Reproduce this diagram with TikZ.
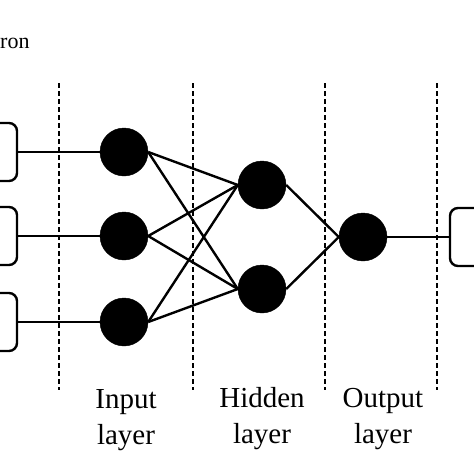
\documentclass[tikz,border=0pt]{standalone}
\usepackage{fontspec}
\setmainfont{Liberation Serif}
\begin{document}
\begin{tikzpicture}[x=1pt,y=-1pt,
  neuron/.style={circle,fill=black,draw=black,minimum size=48pt,inner sep=0pt},
  iobox/.style={draw=black,line width=2.4pt,rounded corners=8pt,minimum width=44pt,minimum height=58pt,inner sep=0pt},
  conn/.style={line width=2.4pt},
  sep/.style={line width=1.8pt,dash pattern=on 5pt off 3pt},
  lbl/.style={font=\fontsize{29}{36}\selectfont,align=center,inner sep=0pt}]
\clip (0,0) rectangle (474,474);
\fill[white] (0,0) rectangle (474,474);
% separators
\draw[sep] (59,83) -- (59,390);
\draw[sep] (193,83) -- (193,390);
\draw[sep] (325,83) -- (325,390);
\draw[sep] (437,83) -- (437,390);
% boxes
\node[iobox] (b1) at (-5,152) {};
\node[iobox] (b2) at (-5,236) {};
\node[iobox] (b3) at (-5,322) {};
\node[iobox] (bo) at (472,237) {};
% neurons
\node[neuron] (i1) at (124,152) {};
\node[neuron] (i2) at (124,236) {};
\node[neuron] (i3) at (124,322) {};
\node[neuron] (h1) at (262,185) {};
\node[neuron] (h2) at (262,289) {};
\node[neuron] (o1) at (363,237) {};
% connections
\draw[conn] (b1.east) -- (i1.west);
\draw[conn] (b2.east) -- (i2.west);
\draw[conn] (b3.east) -- (i3.west);
\foreach \i in {i1,i2,i3}{
  \foreach \h in {h1,h2}{
    \draw[conn] (\i.east) -- (\h.west);
  }
}
\draw[conn] (h1.east) -- (o1.west);
\draw[conn] (h2.east) -- (o1.west);
\draw[conn] (o1.east) -- (bo.west);
% labels
\node[lbl] (l1) at (126,420) {Input\\layer};
\node[lbl] (l2) at (262,419) {Hidden\\layer};
\node[lbl] (l3) at (383,419) {Output\\layer};
\node[anchor=base west,inner sep=0pt,font=\fontsize{22}{26}\selectfont] (t) at (0,48) {ron};
\end{tikzpicture}
\end{document}
